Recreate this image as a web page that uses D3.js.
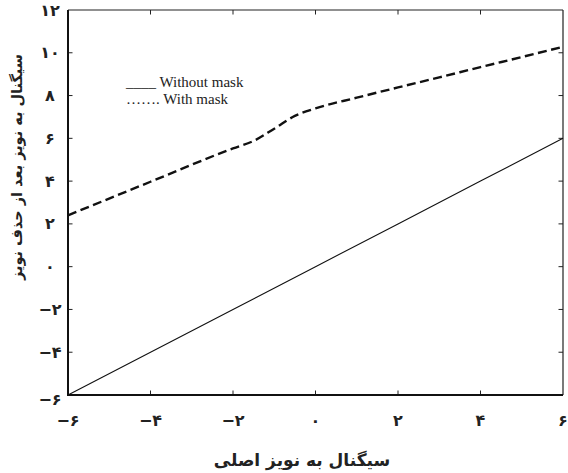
<!DOCTYPE html>
<html>
<head>
<meta charset="utf-8">
<script src="https://cdn.jsdelivr.net/npm/d3@7"></script>
<style>
    body { margin: 0; background: #fff; }
    svg { display: block; background: #fff; }
    .tick-label { font-family: "DejaVu Sans", sans-serif; font-weight: bold; font-size: 16px; fill: #222; }
    .axis-title { font-family: "DejaVu Sans", sans-serif; font-weight: bold; font-size: 17px; fill: #222; }
    .axis-title.y { font-size: 14.5px; }
    .legend { font-family: "Liberation Serif", "Times New Roman", serif; font-size: 15px; fill: #222; }
</style>
</head>
<body>
<svg id="chart" width="568" height="473"></svg>
<script>

// values
const snrIn = [-6, -4, -2, 0, 2, 4, 6];
const withoutMask = [-6, -4, -2, 0, 2, 4, 6];

const snrInMask = [-6, -4, -2, -1.5, -1, -0.5, 0, 1, 2, 3, 4, 5, 6];
const withMask = [2.4, 3.97, 5.53, 5.88, 6.45, 7.05, 7.4, 7.9, 8.38, 8.85, 9.33, 9.8, 10.28];

const xTicks = [-6, -4, -2, 0, 2, 4, 6];
const yTicks = [-6, -4, -2, 0, 2, 4, 6, 8, 10, 12];

const legendLabels = ["____ Without mask", "……. With mask"];
const xTitle = "سیگنال به نویز اصلی";
const yTitle = "سیگنال به نویز بعد از حذف نویز";

const faDigits = "۰۱۲۳۴۵۶۷۸۹";
let toPersian = v => (v < 0 ? "\u2212" : "") + String(Math.abs(v)).replace(/\d/g, d => faDigits[d]);

class LineChart {

    constructor(svg) {

        this.svg = svg;
        this.margin = { left: 68, right: 5, top: 10, bottom: 78 };
        this.width = +svg.attr("width");
        this.height = +svg.attr("height");

        this.x = d3.scaleLinear()
            .domain([-6, 6])
            .range([this.margin.left, this.width - this.margin.right]);
        this.y = d3.scaleLinear()
            .domain([-6, 12])
            .range([this.height - this.margin.bottom, this.margin.top]);

        this.drawAxes();
        this.drawLines();
        this.drawLegend();
        this.drawTitles();

    }

    drawAxes() {

        let x = this.x, y = this.y;
        let [x0, x1] = x.range(), [y0, y1] = y.range();
        let tickLen = 4.5;

        let frame = this.svg.append("g").attr("id", "frame");

        // inward ticks on all four sides
        frame.selectAll("line.xtick")
            .data(xTicks.slice(1, -1))
            .enter()
            .append("line")
                .attr("x1", d => x(d)).attr("x2", d => x(d))
                .attr("y1", y0).attr("y2", y0 - tickLen)
                .attr("stroke", "#222").attr("stroke-width", 1);
        frame.selectAll("line.xtick-top")
            .data(xTicks.slice(1, -1))
            .enter()
            .append("line")
                .attr("x1", d => x(d)).attr("x2", d => x(d))
                .attr("y1", y1).attr("y2", y1 + tickLen)
                .attr("stroke", "#222").attr("stroke-width", 1);
        frame.selectAll("line.ytick")
            .data(yTicks.slice(1, -1))
            .enter()
            .append("line")
                .attr("x1", x0).attr("x2", x0 + tickLen)
                .attr("y1", d => y(d)).attr("y2", d => y(d))
                .attr("stroke", "#222").attr("stroke-width", 1);
        frame.selectAll("line.ytick-right")
            .data(yTicks.slice(1, -1))
            .enter()
            .append("line")
                .attr("x1", x1).attr("x2", x1 - tickLen)
                .attr("y1", d => y(d)).attr("y2", d => y(d))
                .attr("stroke", "#222").attr("stroke-width", 1);

        // box: left and bottom heavier than top and right
        frame.append("path")
            .attr("d", `M${x1},${y1} L${x0},${y1} M${x1},${y1} L${x1},${y0}`)
            .attr("stroke", "#222").attr("stroke-width", 1.2).attr("fill", "none");
        frame.append("path")
            .attr("d", `M${x0},${y1} L${x0},${y0} L${x1},${y0}`)
            .attr("stroke", "#111").attr("stroke-width", 2).attr("fill", "none");

        this.svg.append("g")
            .selectAll("text")
            .data(xTicks)
            .enter()
            .append("text")
                .classed("tick-label", true)
                .attr("x", d => x(d))
                .attr("y", y0 + 25)
                .attr("dy", "0.35em")
                .attr("text-anchor", "middle")
                .text(d => toPersian(d));

        this.svg.append("g")
            .selectAll("text")
            .data(yTicks)
            .enter()
            .append("text")
                .classed("tick-label", true)
                .attr("x", x0 - 18)
                .attr("y", d => y(d) + (d === -6 ? 4 : 0))
                .attr("dy", "0.35em")
                .attr("text-anchor", "middle")
                .text(d => toPersian(d));
    }

    drawLines() {

        let line = d3.line()
            .x(d => this.x(d[0]))
            .y(d => this.y(d[1]));

        this.svg.append("path")
            .datum(d3.zip(snrIn, withoutMask))
            .attr("d", line)
            .attr("fill", "none")
            .attr("stroke", "#111")
            .attr("stroke-width", 1.1);

        this.svg.append("path")
            .datum(d3.zip(snrInMask, withMask))
            .attr("d", line.curve(d3.curveMonotoneX))
            .attr("fill", "none")
            .attr("stroke", "#111")
            .attr("stroke-width", 2.4)
            .attr("stroke-dasharray", "9,4.5");
    }

    drawLegend() {

        this.svg.append("g")
            .selectAll("text")
            .data(legendLabels)
            .enter()
            .append("text")
                .classed("legend", true)
                .attr("x", 126)
                .attr("y", (d, i) => 87 + i * 17)
                .text(d => d);
    }

    drawTitles() {

        this.svg.append("text")
            .classed("axis-title", true)
            .attr("x", 302)
            .attr("y", 466)
            .attr("text-anchor", "middle")
            .attr("direction", "rtl")
            .text(xTitle);

        this.svg.append("text")
            .classed("axis-title y", true)
            .attr("transform", "translate(22,167) rotate(-90)")
            .attr("text-anchor", "middle")
            .attr("direction", "rtl")
            .text(yTitle);
    }

}

new LineChart(d3.select("#chart"));

</script>
</body>
</html>
